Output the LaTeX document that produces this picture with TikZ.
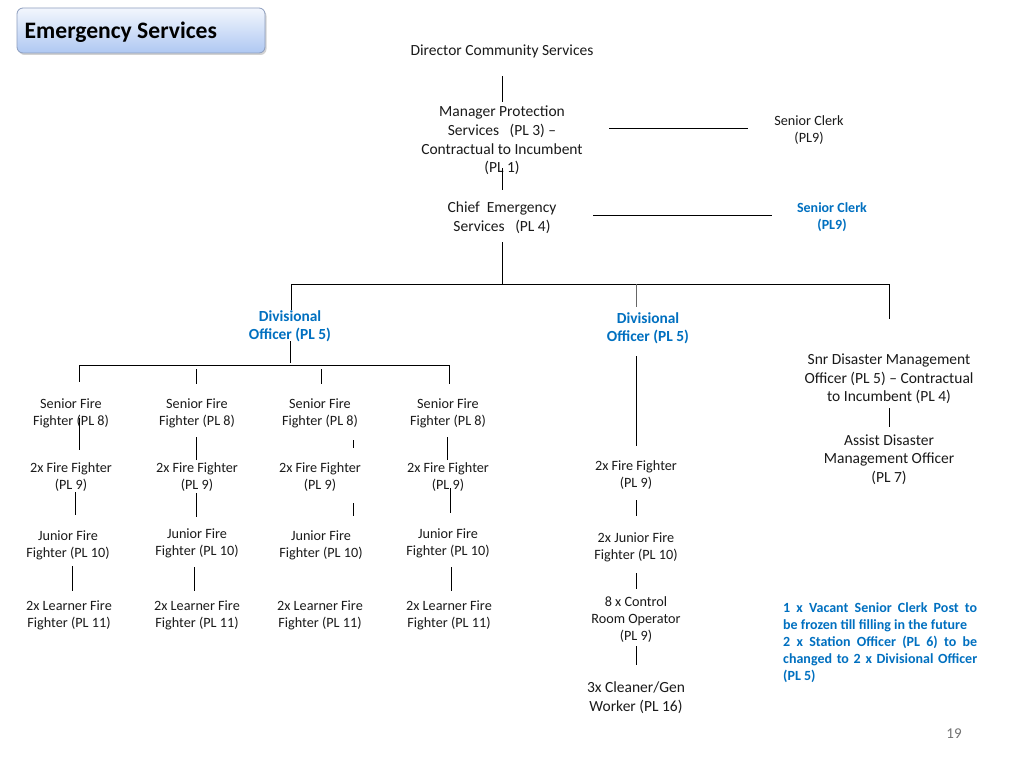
\documentclass[tikz,border=0pt]{standalone}
\usepackage{fontspec}
\setmainfont{Carlito}
\usetikzlibrary{shadows}
\definecolor{offblue}{HTML}{0070C0}
\definecolor{txt}{HTML}{1A1A1A}
\definecolor{boxtop}{HTML}{F2F6FD}
\definecolor{boxbot}{HTML}{AFC8F2}
\definecolor{boxedge}{HTML}{8C9DBE}
\begin{document}
\begin{tikzpicture}[x=1pt,y=-1pt,
  lbl/.style={inner sep=0pt, align=center, text=txt, font=\fontsize{15.5}{18.7}\selectfont},
  sml/.style={inner sep=0pt, align=center, text=txt, font=\fontsize{14.2}{17}\selectfont},
  blu/.style={inner sep=0pt, align=center, text=offblue, font=\bfseries\fontsize{15.4}{18}\selectfont},
  blus/.style={inner sep=0pt, align=center, text=offblue, font=\bfseries\fontsize{14}{17}\selectfont},
  note/.style={inner sep=0pt, align=left, text=offblue, font=\bfseries\fontsize{14}{17}\selectfont},
  titlebox/.style={draw=boxedge, line width=0.8pt, rounded corners=6pt, top color=boxtop, bottom color=boxbot,
    minimum width=248pt, minimum height=45pt, inner sep=0pt,
    drop shadow={shadow xshift=1.5pt, shadow yshift=-2pt, opacity=0.35}},
  titletext/.style={inner sep=0pt, font=\bfseries\fontsize{23.6}{26}\selectfont, text=black},
  ln/.style={line width=0.8pt, draw=black},
  gln/.style={line width=1pt, draw=black!60},
]
\useasboundingbox[fill=white] (0,0) rectangle (1024,768);

% title
\node[titlebox] (title) at (141,30.5) {};
\node[titletext, anchor=west] (titletxt) at (24.5,32) {Emergency Services};

% top chain
\node[lbl] (dir) at (502,51.5) {Director Community Services};
\node[lbl] (mgr) at (502,140.5) {Manager Protection\\Services\ \ \ (PL 3) –\\Contractual to Incumbent\\(PL 1)};
\node[sml] (clk1) at (809,130) {Senior Clerk\\(PL9)};
\node[lbl] (chief) at (502,217.5) {Chief\ \ Emergency\\Services\ \ \ (PL 4)};
\node[blus] (clk2) at (832,217) {Senior Clerk\\(PL9)};

\coordinate (a1) at (502,76);  \coordinate (a2) at (502,102);
\coordinate (b1) at (502,168); \coordinate (b2) at (502,190);
\coordinate (c1) at (609,128); \coordinate (c2) at (748,128);
\coordinate (e1) at (593,215); \coordinate (e2) at (772,215);
\coordinate (f1) at (502,242); \coordinate (f2) at (502,285);
\draw[ln] (a1) -- (a2);
\draw[ln] (b1) -- (b2);
\draw[ln] (c1) -- (c2);
\draw[ln] (e1) -- (e2);
\draw[ln] (f1) -- (f2);

% main bus
\coordinate (busL) at (291,284); \coordinate (busR) at (889,284);
\draw[ln] (busL) -- (busR);
\coordinate (d1t) at (291,284); \coordinate (d1b) at (291,310);
\coordinate (d2t) at (636,284); \coordinate (d2b) at (636,307);
\coordinate (d3t) at (889,284); \coordinate (d3b) at (889,319);
\draw[ln] (d1t) -- (d1b);
\draw[gln] (d2t) -- (d2b);
\draw[ln] (d3t) -- (d3b);

\node[blu] (div1) at (290,326.5) {Divisional\\Officer (PL 5)};
\node[blu] (div2) at (648,328.5) {Divisional\\Officer (PL 5)};

% left sub-bus
\coordinate (g1) at (290,341); \coordinate (g2) at (290,363);
\draw[ln] (g1) -- (g2);
\coordinate (sbL) at (79,365); \coordinate (sbR) at (449,365);
\draw[ln] (sbL) -- (sbR);
\coordinate (h1t) at (79,365);  \coordinate (h1b) at (79,382);
\coordinate (h2t) at (196,369); \coordinate (h2b) at (196,384);
\coordinate (h3t) at (321,369); \coordinate (h3b) at (321,384);
\coordinate (h4t) at (449,365); \coordinate (h4b) at (449,384);
\draw[ln] (h1t) -- (h1b);
\draw[ln] (h2t) -- (h2b);
\draw[ln] (h3t) -- (h3b);
\draw[ln] (h4t) -- (h4b);

% four columns
\node[sml] (s1) at (71,413)  {Senior Fire\\Fighter (PL 8)};
\node[sml] (s2) at (197,413) {Senior Fire\\Fighter (PL 8)};
\node[sml] (s3) at (320,413) {Senior Fire\\Fighter (PL 8)};
\node[sml] (s4) at (448,413) {Senior Fire\\Fighter (PL 8)};

\node[sml] (f1n) at (71,477)  {2x Fire Fighter\\(PL 9)};
\node[sml] (f2n) at (197,477) {2x Fire Fighter\\(PL 9)};
\node[sml] (f3n) at (320,477) {2x Fire Fighter\\(PL 9)};
\node[sml] (f4n) at (448,477) {2x Fire Fighter\\(PL 9)};

\node[sml] (j1) at (68,545)  {Junior Fire\\Fighter (PL 10)};
\node[sml] (j2) at (197,543) {Junior Fire\\Fighter (PL 10)};
\node[sml] (j3) at (321,545) {Junior Fire\\Fighter (PL 10)};
\node[sml] (j4) at (448,543) {Junior Fire\\Fighter (PL 10)};

\node[sml] (l1) at (69,615)  {2x Learner Fire\\Fighter (PL 11)};
\node[sml] (l2) at (197,615) {2x Learner Fire\\Fighter (PL 11)};
\node[sml] (l3) at (320,615) {2x Learner Fire\\Fighter (PL 11)};
\node[sml] (l4) at (449,615) {2x Learner Fire\\Fighter (PL 11)};

\coordinate (p1t) at (79,418);  \coordinate (p1b) at (79,450);
\coordinate (p2t) at (196,437); \coordinate (p2b) at (196,460);
\coordinate (p3t) at (353,440); \coordinate (p3b) at (353,448);
\coordinate (p4t) at (447,437); \coordinate (p4b) at (447,460);
\draw[ln] (p1t) -- (p1b);
\draw[ln] (p2t) -- (p2b);
\draw[ln] (p3t) -- (p3b);
\draw[ln] (p4t) -- (p4b);

\coordinate (q1t) at (75,492);  \coordinate (q1b) at (75,515);
\coordinate (q2t) at (196,493); \coordinate (q2b) at (196,517);
\coordinate (q3t) at (353,503); \coordinate (q3b) at (353,516);
\coordinate (q4t) at (450,488); \coordinate (q4b) at (450,513);
\draw[ln] (q1t) -- (q1b);
\draw[ln] (q2t) -- (q2b);
\draw[ln] (q3t) -- (q3b);
\draw[ln] (q4t) -- (q4b);

\coordinate (r1t) at (72,566);  \coordinate (r1b) at (72,591);
\coordinate (r2t) at (194,567); \coordinate (r2b) at (194,591);
\coordinate (r4t) at (451,567); \coordinate (r4b) at (451,591);
\draw[ln] (r1t) -- (r1b);
\draw[ln] (r2t) -- (r2b);
\draw[ln] (r4t) -- (r4b);

% middle column
\node[sml] (m1) at (636,475) {2x Fire Fighter\\(PL 9)};
\node[sml] (m2) at (636,547) {2x Junior Fire\\Fighter (PL 10)};
\node[sml] (m3) at (636,619.5) {8 x Control\\Room Operator\\(PL 9)};
\node[lbl] (m4) at (636,697.5) {3x Cleaner/Gen\\Worker (PL 16)};
\coordinate (u1t) at (636,356); \coordinate (u1b) at (636,446);
\coordinate (u2t) at (636,500); \coordinate (u2b) at (636,516);
\coordinate (u3t) at (636,573); \coordinate (u3b) at (636,589);
\coordinate (u4t) at (636,646); \coordinate (u4b) at (636,665);
\draw[ln] (u1t) -- (u1b);
\draw[ln] (u2t) -- (u2b);
\draw[ln] (u3t) -- (u3b);
\draw[ln] (u4t) -- (u4b);

% right column
\node[lbl] (snr) at (889,379) {Snr Disaster Management\\Officer (PL 5) – Contractual\\to Incumbent (PL 4)};
\node[lbl] (ast) at (889,459.5) {Assist Disaster\\Management Officer\\(PL 7)};
\coordinate (v1t) at (889,408); \coordinate (v1b) at (889,427);
\draw[ln] (v1t) -- (v1b);

% note
\node[note, anchor=west] (nt) at (783,642.5) {%
\makebox[194pt][s]{1 x Vacant Senior Clerk Post to}\\
be frozen till filling in the future\\
\makebox[194pt][s]{2 x Station Officer (PL 6) to be}\\
\makebox[194pt][s]{changed to 2 x Divisional Officer}\\
(PL 5)};

% page number
\node[inner sep=0pt, text=black!55, font=\fontsize{15}{16}\selectfont] (pg) at (954,734) {19};
\end{tikzpicture}
\end{document}
